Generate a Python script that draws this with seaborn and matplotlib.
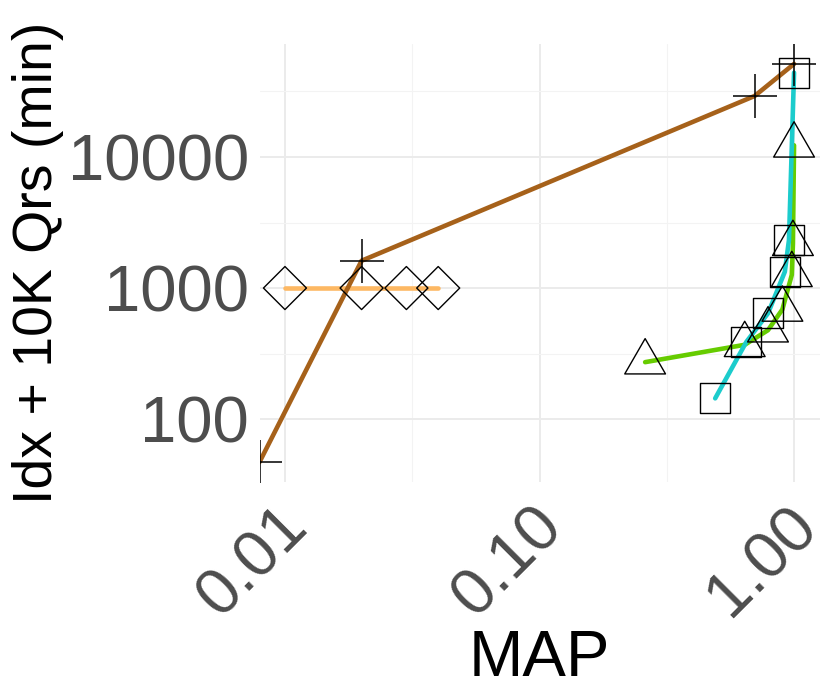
import numpy as np
import matplotlib
matplotlib.use('Agg')
import matplotlib.pyplot as plt
import matplotlib.transforms as mtransforms
from matplotlib.path import Path
from matplotlib.ticker import NullFormatter
import seaborn as sns

# Данные (MAP и время: индекс + 10K запросов, мин)
plus_map = [0.0, 0.02, 0.70, 1.0]
plus_time = [47, 1616, 29200, 51300]

diamond_map = [0.01, 0.02, 0.03, 0.04]
diamond_time = [1000, 1000, 1000, 1000]

triangle_map = [0.26, 0.64, 0.79, 0.90, 0.98, 0.99, 1.0]
triangle_time = [272, 369, 477, 687, 1262, 2178, 12280]

square_map = [0.49, 0.65, 0.79, 0.92, 0.955, 1.0]
square_time = [144, 389, 641, 1331, 2323, 44000]

x_ticks = [0.01, 0.1, 1.0]
x_labels = ['0.01', '0.10', '1.00']
y_ticks = [100, 1000, 10000]
y_labels = ['100', '1000', '10000']

sns.set_style('white')
plt.rcParams['font.family'] = ['Liberation Sans', 'DejaVu Sans']

# Пределы осей как в ggplot: диапазон данных + 5% в лог-шкале
all_x = np.array(plus_map + diamond_map + triangle_map + square_map)
all_y = np.array(plus_time + diamond_time + triangle_time + square_time)
lx = np.log10(all_x[all_x > 0])
ly = np.log10(all_y)
ex = (lx.max() - lx.min()) * 0.05
ey = (ly.max() - ly.min()) * 0.05
xlim = (10 ** (lx.min() - ex), 10 ** (lx.max() + ex))
ylim = (10 ** (ly.min() - ey), 10 ** (ly.max() + ey))

# MAP = 0 -> -Inf в лог-шкале, рисуется на краю панели
plus_x = np.where(np.array(plus_map) > 0, plus_map, xlim[0])

fig = plt.figure(figsize=(8.3, 6.92), dpi=100)
ax = fig.add_axes([259.5 / 830, 210 / 692, 560 / 830, 438 / 692])
ax.set_xscale('log')
ax.set_yscale('log')

# Линии
lw = 3.3
sns.lineplot(x=diamond_map, y=diamond_time, color='#FDB863', lw=lw, sort=False, estimator=None, ax=ax)
sns.lineplot(x=plus_x, y=plus_time, color='#A6611A', lw=lw, sort=False, estimator=None, ax=ax)
sns.lineplot(x=triangle_map, y=triangle_time, color='#66CC00', lw=lw, sort=False, estimator=None, ax=ax)
sns.lineplot(x=square_map, y=square_time, color='#1CCCCC', lw=lw, sort=False, estimator=None, ax=ax)

# Маркеры
tri = Path([(0, 1), (-0.866, -0.5), (0.866, -0.5), (0, 1)],
           [Path.MOVETO, Path.LINETO, Path.LINETO, Path.CLOSEPOLY])
sns.scatterplot(x=plus_x, y=plus_time, marker='+', s=1005, color='black', linewidth=1.1, ax=ax, zorder=5)
sns.scatterplot(x=diamond_map, y=diamond_time, marker='D', s=480, facecolor='none', edgecolor='black', linewidth=1.0, ax=ax, zorder=5)
sns.scatterplot(x=triangle_map, y=triangle_time, marker=tri, s=1150, facecolor='none', edgecolor='black', linewidth=1.0, ax=ax, zorder=5)
sns.scatterplot(x=square_map, y=square_time, marker='s', s=467, facecolor='none', edgecolor='black', linewidth=1.0, ax=ax, zorder=5)

ax.set_xlim(xlim)
ax.set_ylim(ylim)

# Деления и сетка
ax.set_xticks(x_ticks)
ax.set_xticklabels(x_labels)
ax.set_yticks(y_ticks)
ax.set_yticklabels(y_labels)
ax.set_xticks([10 ** -1.5, 10 ** -0.5], minor=True)
ax.set_yticks([10 ** 2.5, 10 ** 3.5, 10 ** 4.5], minor=True)
ax.xaxis.set_minor_formatter(NullFormatter())
ax.yaxis.set_minor_formatter(NullFormatter())
ax.tick_params(which='major', length=3.6, width=0.8, color='#333333', labelsize=47, labelcolor='#4D4D4D')
ax.tick_params(axis='y', which='major', pad=4)
ax.tick_params(axis='x', which='major', pad=6.5)
ax.tick_params(which='minor', length=0)
shift = mtransforms.ScaledTranslation(-0.08, 0, fig.dpi_scale_trans)
for lab in ax.get_xticklabels():
    lab.set_rotation(45)
    lab.set_ha('right')
    lab.set_va('top')
    lab.set_rotation_mode('anchor')
    lab.set_transform(lab.get_transform() + shift)
ax.grid(True, which='major', color='#EBEBEB', lw=1.4)
ax.grid(True, which='minor', color='#F3F3F3', lw=0.8)
ax.set_axisbelow(True)
for s in ax.spines.values():
    s.set_visible(False)

ax.set_xlabel('MAP', fontsize=47, color='black')
ax.set_ylabel('Idx + 10K Qrs (min)', fontsize=40, color='black')
ax.xaxis.set_label_coords(0.5, -0.3345)
ax.yaxis.set_label_coords(-0.3497, 0.5)

plt.savefig('out.png', dpi=100)
